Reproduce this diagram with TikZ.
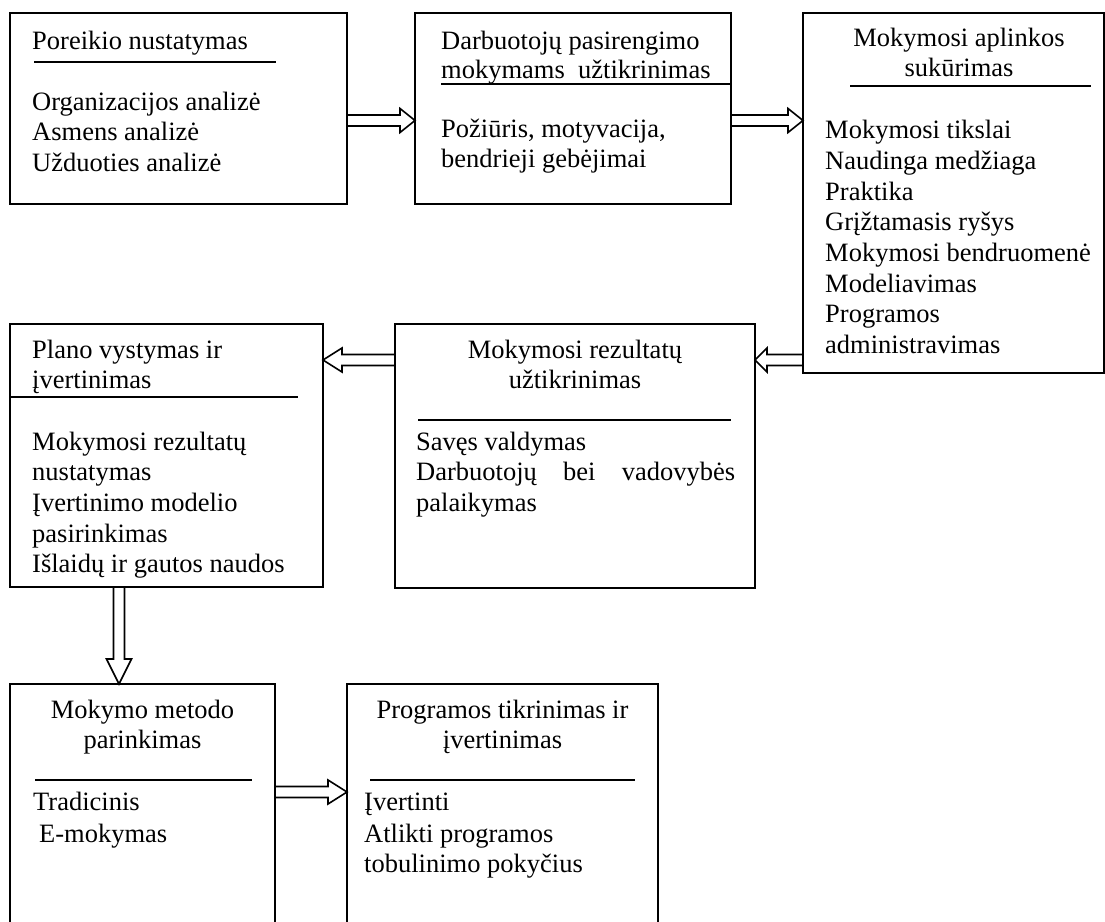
\documentclass[tikz,border=0pt]{standalone}
\usepackage{fontspec}
\setmainfont{Liberation Serif}
\usetikzlibrary{calc}
\tikzset{
  boxnode/.style={draw, line width=1.6pt, rectangle, inner sep=0pt, outer sep=0pt},
  txt/.style={inner sep=0pt, anchor=base west, font=\fontsize{26.5}{30.7}\selectfont},
  ctxt/.style={inner sep=0pt, anchor=base, font=\fontsize{26.5}{30.7}\selectfont},
  rulel/.style={line width=1.6pt},
  conn/.style={line width=1.6pt, line join=miter},
}
\newcommand\harr[3]{%
  \draw[conn] let \p1=(#1), \p2=(#2), \n1={sign(\x2-\x1)} in
   (\x1,\y1+5.5pt) -- ({\x2-\n1*#3*1pt},\y1+5.5pt) -- ({\x2-\n1*#3*1pt},\y1+12pt)
   -- (\x2,\y2) -- ({\x2-\n1*#3*1pt},\y1-12pt) -- ({\x2-\n1*#3*1pt},\y1-5.5pt) -- (\x1,\y1-5.5pt);}
\newcommand\varr[3]{%
  \draw[conn] let \p1=(#1), \p2=(#2), \n1={sign(\y2-\y1)} in
   (\x1-5.5pt,\y1) -- (\x1-5.5pt,{\y2-\n1*#3*1pt}) -- (\x1-12.5pt,{\y2-\n1*#3*1pt})
   -- (\x2,\y2) -- (\x1+12.5pt,{\y2-\n1*#3*1pt}) -- (\x1+5.5pt,{\y2-\n1*#3*1pt}) -- (\x1+5.5pt,\y1);}
\begin{document}
\begin{tikzpicture}[x=1pt,y=-1pt]
\useasboundingbox (0,0) rectangle (1105,921);
\fill[white] (0,0) rectangle (1105,921);
\clip (0,0) rectangle (1105,921);

% boxes
\node[boxnode, minimum width=337, minimum height=191] (b1) at (178.5,108.5) {};
\node[boxnode, minimum width=316, minimum height=191] (b2) at (573,108.5) {};
\node[boxnode, minimum width=301, minimum height=360] (b3) at (953.5,193) {};
\node[boxnode, minimum width=313, minimum height=263] (b4) at (166.5,455.5) {};
\node[boxnode, minimum width=360, minimum height=264] (b5) at (575,456) {};
\node[boxnode, minimum width=265, minimum height=256] (b6) at (142.5,812) {};
\node[boxnode, minimum width=311, minimum height=256] (b7) at (502.5,812) {};

% box 1
\node[txt] (t1h) at (32,49) {Poreikio nustatymas};
\draw[rulel] (34,62) -- (276,62);
\node[txt] (t1a) at (32,110) {Organizacijos analizė};
\node[txt] (t1b) at (32,140.5) {Asmens analizė};
\node[txt] (t1c) at (32,171) {Užduoties analizė};

% box 2
\node[txt] (t2h1) at (441,49) {Darbuotojų pasirengimo};
\node[txt] (t2h2) at (441,78) {mokymams~\ užtikrinimas};
\draw[rulel] (441,84) -- (b2.east |- 0,84);
\node[txt] (t2a) at (441,137) {Požiūris, motyvacija,};
\node[txt] (t2b) at (441,167) {bendrieji gebėjimai};

% box 3
\node[ctxt] (t3h1) at (959,46) {Mokymosi aplinkos};
\node[ctxt] (t3h2) at (959,76) {sukūrimas};
\draw[rulel] (850,86) -- (1091,86);
\node[txt] (t3a) at (825,138) {Mokymosi tikslai};
\node[txt] (t3b) at (825,169) {Naudinga medžiaga};
\node[txt] (t3c) at (825,200) {Praktika};
\node[txt] (t3d) at (825,230.5) {Grįžtamasis ryšys};
\node[txt] (t3e) at (825,261) {Mokymosi bendruomenė};
\node[txt] (t3f) at (825,292) {Modeliavimas};
\node[txt] (t3g) at (825,322.5) {Programos};
\node[txt] (t3i) at (825,353) {administravimas};

% box 4
\node[txt] (t4h1) at (32,358) {Plano vystymas ir};
\node[txt] (t4h2) at (32,388) {įvertinimas};
\draw[rulel] (b4.west |- 0,397) -- (298,397);
\node[txt] (t4a) at (32,450) {Mokymosi rezultatų};
\node[txt] (t4b) at (32,480.7) {nustatymas};
\node[txt] (t4c) at (32,511.4) {Įvertinimo modelio};
\node[txt] (t4d) at (32,542.1) {pasirinkimas};
\node[txt] (t4e) at (32,572.8) {Išlaidų ir gautos naudos};

% box 5
\node[ctxt] (t5h1) at (575,358) {Mokymosi rezultatų};
\node[ctxt] (t5h2) at (575,388) {užtikrinimas};
\draw[rulel] (418,420) -- (731,420);
\node[txt] (t5a) at (416,450) {Savęs valdymas};
\node[txt] (t5b) at (416,480.7) {\makebox[319pt][s]{Darbuotojų\hfill bei\hfill vadovybės}};
\node[txt] (t5c) at (416,511.4) {palaikymas};

% box 6
\node[ctxt] (t6h1) at (142.5,718) {Mokymo metodo};
\node[ctxt] (t6h2) at (142.5,748) {parinkimas};
\draw[rulel] (35,780) -- (252,780);
\node[txt] (t6a) at (33,810) {Tradicinis};
\node[txt] (t6b) at (39,842) {E-mokymas};

% box 7
\node[ctxt] (t7h1) at (502.5,718) {Programos tikrinimas ir};
\node[ctxt] (t7h2) at (502.5,748) {įvertinimas};
\draw[rulel] (370,780) -- (635,780);
\node[txt] (t7a) at (364,810) {Įvertinti};
\node[txt] (t7b) at (364,842) {Atlikti programos};
\node[txt] (t7c) at (364,872) {tobulinimo pokyčius};

% connectors
\coordinate (a1s) at (b1.east |- 0,120.5);
\coordinate (a1e) at (b2.west |- 0,120.5);
\harr{a1s}{a1e}{15}
\coordinate (a2s) at (b2.east |- 0,120.5);
\coordinate (a2e) at (b3.west |- 0,120.5);
\harr{a2s}{a2e}{15}
\coordinate (a3s) at (b3.west |- 0,360);
\coordinate (a3e) at (b5.east |- 0,360);
\harr{a3s}{a3e}{12}
\coordinate (a4s) at (b5.west |- 0,360);
\coordinate (a4e) at (b4.east |- 0,360);
\harr{a4s}{a4e}{19}
\coordinate (a5s) at (b4.south -| 119,0);
\coordinate (a5e) at (b6.north -| 119,0);
\varr{a5s}{a5e}{25}
\coordinate (a6s) at (b6.east |- 0,792);
\coordinate (a6e) at (b7.west |- 0,792);
\harr{a6s}{a6e}{19}
\end{tikzpicture}
\end{document}
